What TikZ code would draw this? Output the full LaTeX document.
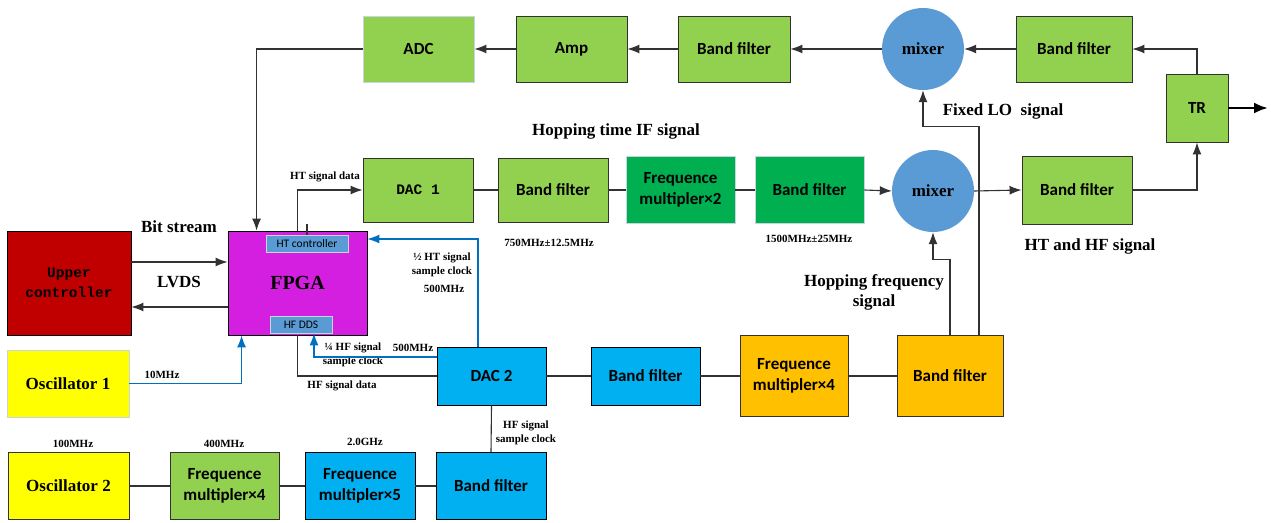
\documentclass[tikz,border=0pt]{standalone}
\usepackage{fontspec}
\setmainfont{Liberation Serif}
\newfontfamily\boxfamily{Carlito}
\newfontfamily\monofamily{Liberation Mono}
\usetikzlibrary{shapes,arrows.meta}
\definecolor{lgreen}{RGB}{146,208,80}
\definecolor{dgreen}{RGB}{0,176,80}
\definecolor{sky}{RGB}{0,176,240}
\definecolor{orng}{RGB}{255,192,0}
\definecolor{ylw}{RGB}{255,255,0}
\definecolor{dred}{RGB}{192,0,0}
\definecolor{mgnt}{RGB}{212,31,224}
\definecolor{mixblue}{RGB}{91,155,213}
\definecolor{clkblue}{RGB}{0,112,192}
\definecolor{edge}{RGB}{50,50,50}
\definecolor{soft}{RGB}{200,212,228}

\tikzset{
  blk/.style={draw=edge, line width=0.9pt, inner sep=0pt, align=center,
    minimum width=110pt, minimum height=66pt,
    font=\boxfamily\bfseries\fontsize{17}{21}\selectfont},
  mixer/.style={circle, fill=mixblue, minimum size=82pt, inner sep=0pt,
    font=\bfseries\fontsize{17}{20}\selectfont},
  sub/.style={draw=soft, fill=mixblue, inner sep=0pt, line width=0.8pt,
    font=\boxfamily\fontsize{11.5}{13}\selectfont},
  lbl/.style={inner sep=0pt, align=center, font=\bfseries\fontsize{17}{20}\selectfont},
  slbl/.style={inner sep=0pt, align=center, font=\bfseries\fontsize{11}{14}\selectfont},
  wire/.style={draw=edge, line width=1.1pt},
  clk/.style={draw=clkblue, line width=1.1pt},
  tip/.style={-{Latex[length=12pt,width=9pt]}}
}

\begin{document}
\begin{tikzpicture}[x=1pt, y=-1pt]
  \useasboundingbox[fill=white] (0,0) rectangle (1271,522);

  % receive chain
  \node[blk, fill=lgreen, draw=soft, minimum width=111pt] (adc) at (418.5,49) {ADC};
  \node[blk, fill=lgreen, minimum width=111pt, right of=adc, node distance=153pt] (amp) {Amp};
  \node[blk, fill=lgreen, minimum width=112pt, right of=amp, node distance=162.5pt] (bfa) {Band filter};
  \node[mixer, right of=bfa, node distance=189pt] (mixa) {mixer};
  \node[blk, fill=lgreen, minimum width=116pt, right of=mixa, node distance=151pt] (bfb) {Band filter};
  \node[blk, fill=lgreen, minimum width=62pt, minimum height=68pt] (tr) at (1197,108) {TR};
  \coordinate (out) at (1268,108);

  % transmit chain
  \node[blk, fill=lgreen, minimum height=64pt, font=\monofamily\bfseries\fontsize{14.5}{17}\selectfont] (dac1) at (418,190) {DAC 1};
  \node[blk, fill=lgreen, minimum height=64pt, right of=dac1, node distance=135pt] (bfc) {Band filter};
  \node[blk, fill=dgreen, draw=soft, minimum width=109pt, minimum height=67pt, right of=bfc, node distance=127.5pt] (fm2) {Frequence\\multipler×2};
  \node[blk, fill=dgreen, draw=soft, minimum width=109pt, minimum height=67pt, right of=fm2, node distance=129pt] (bfd) {Band filter};
  \node[mixer] (mixb) at (933,191) {mixer};
  \node[blk, fill=lgreen, minimum height=68pt] (bfe) at (1077,190) {Band filter};

  % control
  \node[blk, fill=dred, draw=black, minimum width=124pt, minimum height=104pt,
    font=\monofamily\bfseries\fontsize{14.5}{20}\selectfont] (upper) at (69,283) {Upper\\controller};
  \node[blk, fill=mgnt, draw=black, minimum width=139pt, minimum height=104pt,
    font=\bfseries\fontsize{20}{24}\selectfont] (fpga) at (297.5,283) {FPGA};
  \node[sub, minimum width=82pt, minimum height=17pt] (htc) at (307,243.5) {HT controller};
  \node[sub, minimum width=62pt, minimum height=17pt] (hfdds) at (301,324.5) {HF DDS};
  \node[blk, fill=ylw, draw=soft, minimum width=122pt, minimum height=67pt,
    font=\bfseries\fontsize{17}{20}\selectfont] (osca) at (68,383.5) {Oscillator 1};

  % HF path
  \node[blk, fill=sky, draw=black, minimum width=109pt, minimum height=58pt] (dac2) at (491.5,376) {DAC 2};
  \node[blk, fill=sky, draw=black, minimum width=109pt, minimum height=58pt, right of=dac2, node distance=154pt] (bff) {Band filter};
  \node[blk, fill=orng, minimum width=108pt, minimum height=81pt, right of=bff, node distance=148.5pt] (fm4o) {Frequence\\multipler×4};
  \node[blk, fill=orng, minimum width=106pt, minimum height=81pt, right of=fm4o, node distance=156pt] (bfg) {Band filter};

  % clock path
  \node[blk, fill=ylw, minimum width=121pt, minimum height=67pt,
    font=\bfseries\fontsize{17}{20}\selectfont] (oscb) at (68.5,486) {Oscillator 2};
  \node[blk, fill=lgreen, minimum width=109pt, minimum height=67pt, right of=oscb, node distance=156pt] (fm4g) {Frequence\\multipler×4};
  \node[blk, fill=sky, draw=black, minimum width=110pt, minimum height=67pt, right of=fm4g, node distance=135.5pt] (fm5) {Frequence\\multipler×5};
  \node[blk, fill=sky, draw=black, minimum width=110pt, minimum height=67pt, right of=fm5, node distance=131pt] (bfh) {Band filter};

  % labels
  \node[lbl] (hoptime) at (616,131) {Hopping time IF signal};
  \node[lbl] (fixlo) at (1003,111) {Fixed LO\ \ signal};
  \node[lbl] (hthf) at (1090,246) {HT and HF signal};
  \node[lbl] (hopfreq) at (874,292) {Hopping frequency\\signal};
  \node[lbl] (bits) at (179,227) {Bit stream};
  \node[lbl] (lvds) at (179,282) {LVDS};
  \node[slbl] (htdata) at (325,177) {HT signal data};
  \node[slbl] (f750) at (549,243) {750MHz±12.5MHz};
  \node[slbl] (f1500) at (809,239) {1500MHz±25MHz};
  \node[slbl] (htclk) at (442,265) {½ HT signal\\sample clock};
  \node[slbl] (htclkf) at (444,289) {500MHz};
  \node[slbl] (hfclk) at (353,355) {¼ HF signal\\sample clock};
  \node[slbl] (hfclkf) at (413,348) {500MHz};
  \node[slbl] (hfdata) at (342,386) {HF signal data};
  \node[slbl] (f10) at (162,375) {10MHz};
  \node[slbl] (dacclk) at (526,433) {HF signal\\sample clock};
  \node[slbl] (f100) at (73,444) {100MHz};
  \node[slbl] (f400) at (224,444) {400MHz};
  \node[slbl] (f2g) at (365,442) {2.0GHz};

  % connectors
  \path[wire, tip] (adc.west) -| ([xshift=29pt]fpga.north west);
  \path[wire, tip] (amp.west) -- (adc.east);
  \path[wire, tip] (bfa.west) -- (amp.east);
  \path[wire, tip] (mixa.west) -- (bfa.east);
  \path[wire, tip] (bfb.west) -- (mixa.east);
  \path[wire, tip] (tr.north) |- (bfb.east);
  \path[draw=black, line width=2.6pt, -{Latex[length=14pt,width=11pt]}] (tr.east) -- (out);

  \path[wire, tip] (fpga.north) |- (dac1.west);
  \path[wire] (htc.north) -- ++(0,-11);
  \path[wire] (dac1) -- (bfc);
  \path[wire] (bfc) -- (fm2);
  \path[wire] (fm2) -- (bfd);
  \path[wire, tip] (bfd.east) -- (mixb.west);
  \path[wire, tip] (mixb.east) -- (bfe.west);
  \path[wire, tip] (bfe.east) -| (tr.south);

  \path[wire, tip] ([yshift=21pt]upper.east) -- ([yshift=21pt]fpga.west);
  \path[wire, tip] ([yshift=-24pt]fpga.west) -- ([yshift=-24pt]upper.east);
  \path[clk, tip] (osca.east) -| ([xshift=14pt]fpga.south west);
  \path[wire] (fpga.south) |- (dac2.west);
  \path[clk, tip] ([yshift=19pt]dac2.west) -| ([xshift=13pt]hfdds.south);
  \path[clk, tip] ([xshift=-13.5pt]dac2.north) |- ([yshift=44pt]fpga.east);

  \path[wire] (dac2) -- (bff);
  \path[wire] (bff) -- (fm4o);
  \path[wire] (fm4o) -- (bfg);
  \path[wire, tip] (bfg.north) -- ++(0,-76) -| (mixb.south);
  \path[wire, tip] ([xshift=29pt]bfg.north) -- ++(0,-209) -| (mixa.south);
  \path[wire] (dac2.south) -- (bfh.north);

  \path[wire] (oscb) -- (fm4g);
  \path[wire] (fm4g) -- (fm5);
  \path[wire] (fm5) -- (bfh);
\end{tikzpicture}
\end{document}
